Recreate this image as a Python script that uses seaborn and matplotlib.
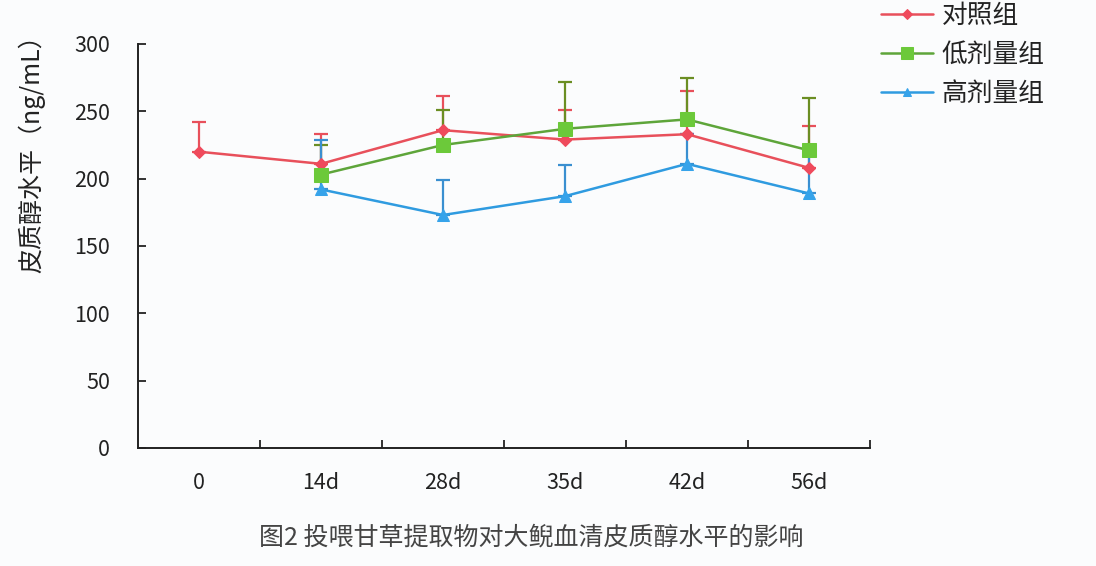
import matplotlib
matplotlib.use("Agg")
import matplotlib.pyplot as plt
from matplotlib.ticker import FixedLocator
import numpy as np
import pandas as pd
import seaborn as sns

# data
days = ["0", "14d", "28d", "35d", "42d", "56d"]
groups = ["对照组", "低剂量组", "高剂量组"]
control = [220, 211, 236, 229, 233, 208]
control_sd = [22, 22, 25, 22, 32, 31]
low = [np.nan, 203, 225, 237, 244, 221]
low_sd = [np.nan, 22, 26, 35, 31, 39]
high = [np.nan, 192, 173, 187, 211, 189]
high_sd = [np.nan, 37, 26, 23, 22, 30]

line_colors = ["#e8505b", "#5ea53a", "#2f9be0"]
face_colors = ["#ef4a5c", "#6cc93a", "#36a3ea"]
bar_colors = ["#e8505b", "#6b8e23", "#3a8fd0"]
markers = ["D", "s", "^"]
msizes = [6, 10, 8]

sns.set_style("white")
plt.rcParams["font.family"] = ["Noto Sans CJK SC", "DejaVu Sans"]

rows = []
for g, vals, sds in zip(groups, [control, low, high], [control_sd, low_sd, high_sd]):
    for i, d in enumerate(days):
        rows.append({"day": d, "pos": i, "group": g, "value": vals[i], "sd": sds[i]})
df = pd.DataFrame(rows)

fig = plt.figure(figsize=(10.96, 5.66), dpi=100)
fig.patch.set_facecolor("#fbfcfd")
ax = fig.add_axes([0.1259, 0.2085, 0.6679, 0.7138])
ax.set_facecolor("#fbfcfd")

# one-sided (upper) error bars
for k, g in enumerate(groups):
    sub = df[(df.group == g) & df.value.notna()]
    ax.errorbar(sub.pos, sub.value, yerr=[np.zeros(len(sub)), sub.sd],
                fmt="none", ecolor=bar_colors[k], elinewidth=1.6,
                capsize=5, capthick=1.6, zorder=2)

for k, g in enumerate(groups):
    sub = df[(df.group == g) & df.value.notna()]
    sns.lineplot(data=sub, x="pos", y="value", ax=ax, color=line_colors[k],
                 marker=markers[k], markersize=msizes[k],
                 markerfacecolor=face_colors[k], markeredgecolor=face_colors[k],
                 linewidth=1.8, label=g, sort=False, zorder=3)

ax.set_xlim(-0.5, 5.5)
ax.set_ylim(0, 300)
ax.set_yticks(np.arange(0, 301, 50))
ax.set_xticks(range(len(days)))
ax.set_xticklabels(days)
ax.xaxis.set_minor_locator(FixedLocator(np.arange(0.5, 5.6, 1)))
ax.tick_params(axis="x", which="major", bottom=True, length=0, pad=17,
               labelsize=15.5, labelcolor="#222222")
ax.tick_params(axis="x", which="minor", bottom=True, direction="in", length=6,
               width=1.3, color="#222222")
ax.tick_params(axis="y", left=True, direction="in", length=6, width=1.3, color="#222222",
               pad=20, labelsize=15.5, labelcolor="#222222")
for s in ["top", "right"]:
    ax.spines[s].set_visible(False)
for s in ["left", "bottom"]:
    ax.spines[s].set_color("#222222")
    ax.spines[s].set_linewidth(1.4)
ax.set_xlabel("")
ax.set_ylabel("皮质醇水平（ng/mL）", fontsize=18, color="#222222")
ax.yaxis.set_label_coords(-0.127, 0.743)

handles, labels = ax.get_legend_handles_labels()
ax.get_legend().remove()
fig.legend(handles, labels, loc="upper left", bbox_to_anchor=(0.783, 1.035),
           frameon=False, fontsize=18.5, handlelength=2.0, handletextpad=0.35,
           labelspacing=0.5, labelcolor="#222222", markerscale=0.8)

fig.text(0.4845, 0.051, "图2 投喂甘草提取物对大鲵血清皮质醇水平的影响",
         ha="center", va="center", fontsize=18, color="#444444")

fig.savefig("out.png", dpi=100, facecolor=fig.get_facecolor())
